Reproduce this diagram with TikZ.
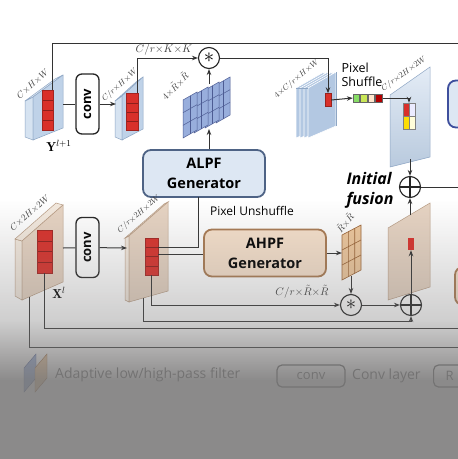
\documentclass[tikz,border=0pt]{standalone}
\usepackage{amsmath, amssymb}
\usepackage{fontspec}
\setsansfont{Open Sans}
\usepackage{tikz}
\usetikzlibrary{arrows, shapes, arrows.meta, calc, fadings}

\definecolor{wire}{HTML}{333333}
\definecolor{lpffill}{HTML}{DDE7F3}
\definecolor{lpfedge}{HTML}{4E6385}
\definecolor{hpffill}{HTML}{F7E1CC}
\definecolor{hpfedge}{HTML}{A97A52}
\definecolor{blueface}{HTML}{BFD2E8}
\definecolor{blueside}{HTML}{D6E3F1}
\definecolor{bluetop}{HTML}{E4ECF6}
\definecolor{blueline}{HTML}{8EA6C4}
\definecolor{stackface}{HTML}{B3C8E2}
\definecolor{peachface}{HTML}{E6D3C2}
\definecolor{peachside}{HTML}{F3E9DE}
\definecolor{peachline}{HTML}{B89C84}
\definecolor{featred}{HTML}{D9302A}
\definecolor{lpfplane}{HTML}{98AEDC}
\definecolor{lpfgrid}{HTML}{4D5C93}
\definecolor{hpfplane}{HTML}{EEC79C}
\definecolor{hpfgrid}{HTML}{9A6234}
\definecolor{veil}{RGB}{119,118,118}

\tikzfading[name=veilfade, top color=transparent!100, bottom color=transparent!0]
\tikzfading[name=veilfadeb, top color=transparent!59, bottom color=transparent!0]

\tikzset{
  wire/.style={draw=wire, line width=1pt},
  arr/.style={wire, -{Stealth[length=6pt, width=4.5pt]}},
  gen/.style={rounded corners=8pt, line width=1.8pt, align=center, minimum width=122pt, minimum height=47pt, font=\sffamily\bfseries\fontsize{14.5}{20}\selectfont},
  convbox/.style={draw=black!85, fill=white, line width=1.3pt, rounded corners=6pt, rotate=90, minimum width=60pt, minimum height=23pt, inner sep=0pt, font=\sffamily\bfseries\fontsize{13}{13}\selectfont},
  op/.style={draw=black!85, circle, line width=1.1pt, minimum size=21pt, inner sep=0pt},
  oplus/.style={op, path picture={\draw[line width=1.1pt, black!85] (path picture bounding box.north) -- (path picture bounding box.south) (path picture bounding box.west) -- (path picture bounding box.east);}},
  dimlbl/.style={inner sep=0pt, text=black!75, font=\fontsize{9}{9}\selectfont},
  redpatch/.style={fill=featred, draw=featred!75!black, line width=0.5pt, inner sep=0pt,
    path picture={\foreach \t in {0.25,0.5,0.75} {\draw[featred!65!black, line width=0.5pt] ($(path picture bounding box.north west)!\t!(path picture bounding box.south west)$) -- ($(path picture bounding box.north east)!\t!(path picture bounding box.south east)$);}}},
  slabedge/.style={line width=0.5pt},
  leglbl/.style={font=\sffamily\fontsize{14}{14}\selectfont, text=black!60, inner sep=0pt},
  legbox/.style={draw=black!60, line width=1.2pt, rounded corners=5pt, minimum height=22pt, font=\sffamily\fontsize{13}{13}\selectfont, text=black!60},
}

\begin{document}
\begin{tikzpicture}[x=1pt, y=-1pt]
\useasboundingbox (0,0) rectangle (458,459);
\clip (0,0) rectangle (458,459);
\fill[white] (0,0) rectangle (458,459);

% Y^{l+1} input
\filldraw[fill=blueside, draw=blueline, slabedge] (25,101) -- (33,97) -- (33,140) -- (25,137) -- cycle;
\filldraw[fill=bluetop, draw=blueline, slabedge] (25,101) -- (55,79) -- (63,75) -- (33,97) -- cycle;
\filldraw[fill=blueface, draw=blueline, slabedge] (33,97) -- (63,75) -- (63,128) -- (33,140) -- cycle;
\node[redpatch, minimum width=11pt, minimum height=40pt] (yred) at (47.5,110) {};
\node[dimlbl, rotate=42] (ylbl) at (33,84) {$C{\times}H{\times}W$};
\node[font=\fontsize{13}{13}\selectfont] (yname) at (59,146) {$\mathbf{Y}^{l+1}$};
\coordinate (ytap) at (52,90);
\coordinate (yout) at (63,104);
\coordinate (topR) at (470,43);

\node[convbox] (conv1) at (87.5,104) {conv};

% C/r x H x W
\filldraw[fill=blueside, draw=blueline, slabedge] (115,101) -- (122,96) -- (122,140) -- (115,137) -- cycle;
\filldraw[fill=bluetop, draw=blueline, slabedge] (115,101) -- (136,82) -- (143,77) -- (122,96) -- cycle;
\filldraw[fill=blueface, draw=blueline, slabedge] (122,96) -- (143,77) -- (143,129) -- (122,140) -- cycle;
\node[redpatch, minimum width=12pt, minimum height=37pt] (y2red) at (132.5,112) {};
\node[dimlbl, rotate=42, font=\fontsize{8}{8}\selectfont] (y2lbl) at (120,85) {$C/r{\times}H{\times}W$};
\coordinate (y2in) at (116,104);
\coordinate (y2tap) at (137,93);
\node[dimlbl, font=\fontsize{10.5}{10.5}\selectfont] (klbl) at (164,50) {$C/r{\times}K{\times}K$};

% ALPF kernels
\foreach \i in {3,2,1,0} {
  \pgfmathsetmacro{\px}{183+11*\i}
  \pgfmathsetmacro{\py}{138-5*\i}
  \filldraw[fill=lpfplane, draw=lpfgrid, line width=0.5pt] (\px,\py) -- ++(14,-8) -- ++(0,-38) -- ++(-14,8) -- cycle;
  \foreach \h in {12.7,25.3} \draw[lpfgrid, line width=0.5pt] (\px,\py-\h) -- ++(14,-8);
  \draw[lpfgrid, line width=0.5pt] (\px+7,\py-4) -- ++(0,-38);
}
\node[dimlbl, rotate=45] (lpfklbl) at (175,86) {$4{\times}\tilde{R}{\times}\tilde{R}$};
\coordinate (lpfkb) at (209,129);
\coordinate (lpfkt) at (209,84);
\node[op] (mulK) at (209,58) {\fontsize{20}{20}\selectfont$\ast$};

\node[gen, draw=lpfedge, fill=lpffill] (alpf) at (204,173.5) {ALPF\\Generator};

% 4 x C/r x H x W stack
\foreach \i in {0,1,2,3} {
  \pgfmathsetmacro{\sx}{296+4*\i}
  \filldraw[fill=stackface, draw=white, line width=0.6pt] (\sx,88) -- ++(28,-16) -- ++(0,54) -- ++(-28,12) -- cycle;
}
\draw[blueline, slabedge] (296,88) -- (308,88) (336,72) -- (336,126);
\node[dimlbl, rotate=40, font=\fontsize{8}{8}\selectfont] (stlbl) at (297,79) {$4{\times}C/r{\times}H{\times}W$};
\node[fill=featred, draw=featred!70!black, line width=0.4pt, minimum width=6pt, minimum height=13pt, inner sep=0pt] (stred) at (328,100) {};

% pixel shuffle
\node[font=\sffamily\fontsize{12.5}{14}\selectfont, align=left] (pslbl) at (362,75) {Pixel\\Shuffle};
\node[inner sep=0pt, minimum width=30pt, minimum height=10pt] (cubes) at (368,98) {};
\foreach \c [count=\k] in {green!55!olive!60, yellow!70!green!70, orange!20!white, red!70!black} {
  \filldraw[fill=\c, draw=black!60, line width=0.3pt] ($(cubes.south west)+(7.5*\k-7.5,-1)$) rectangle ++(6.5,-8);
}

% low-pass output
\shadedraw[top color=bluetop, bottom color=blueface!90!gray, draw=blueline, slabedge] (390,95) -- (430,67) -- (430,157) -- (390,167) -- cycle;
\node[dimlbl, rotate=36, font=\fontsize{8}{8}\selectfont] (outlbl) at (404,74) {$C/r{\times}2H{\times}2W$};
\node[draw=black!50, line width=0.4pt, minimum width=12pt, minimum height=26pt, inner sep=0pt] (outgrid) at (409,116) {};
\fill[featred] (outgrid.north west) rectangle (outgrid.center);
\fill[blue!8!white] (outgrid.north) rectangle (outgrid.east);
\fill[yellow!80!orange] (outgrid.west) rectangle (outgrid.south);
\fill[yellow!15!white] (outgrid.center) rectangle (outgrid.south east);
\draw[black!50, line width=0.4pt] (outgrid.north west) rectangle (outgrid.south east) (outgrid.north) -- (outgrid.south) (outgrid.west) -- (outgrid.east);
\coordinate (lpfout) at (410,159);

\node[oplus] (addA) at (410,187) {};
\node[font=\sffamily\bfseries\itshape\fontsize{16}{20}\selectfont, align=left] (fuselbl) at (370,190) {Initial\\fusion};
\coordinate (eA) at (470,187);

% X^l input
\filldraw[fill=peachside, draw=peachline, slabedge] (15,239) -- (22,241) -- (22,300) -- (15,296) -- cycle;
\filldraw[fill=peachside, draw=peachline, slabedge] (15,239) -- (56,203) -- (63,205) -- (22,241) -- cycle;
\filldraw[fill=peachface, draw=peachline, slabedge] (22,241) -- (63,205) -- (63,282) -- (22,300) -- cycle;
\node[redpatch, minimum width=15pt, minimum height=43pt] (xred) at (44.5,251.5) {};
\node[dimlbl, rotate=41] (xlbl) at (30,213) {$C{\times}2H{\times}2W$};
\node[font=\fontsize{13}{13}\selectfont] (xname) at (59,293) {$\mathbf{X}^{l}$};
\coordinate (xout) at (63,248);
\coordinate (xbot) at (29,297);

\node[convbox] (conv2) at (87.5,247.5) {conv};

% C/r x 2H x 2W
\filldraw[fill=peachside, draw=peachline, slabedge] (125,238) -- (129,236) -- (129,302) -- (125,300) -- cycle;
\filldraw[fill=peachside, draw=peachline, slabedge] (125,238) -- (164,204) -- (168,202) -- (129,236) -- cycle;
\filldraw[fill=peachface, draw=peachline, slabedge] (129,236) -- (168,202) -- (168,291) -- (129,302) -- cycle;
\node[redpatch, minimum width=13pt, minimum height=37pt] (x2red) at (151.5,256.5) {};
\node[dimlbl, rotate=41, font=\fontsize{8}{8}\selectfont] (x2lbl) at (139,214) {$C/r{\times}2H{\times}2W$};
\coordinate (x2in) at (127,248);
\coordinate (x2tapA) at (158,247);
\coordinate (x2tapB) at (158,254);
\coordinate (x2bot) at (143,298);
\coordinate (unsh) at (198,197);
\node[font=\sffamily\fontsize{12}{12}\selectfont] (unshlbl) at (252,211) {Pixel Unshuffle};

\node[gen, draw=hpfedge, fill=hpffill] (ahpf) at (265,253) {AHPF\\Generator};

% AHPF kernel
\filldraw[fill=hpfplane, draw=hpfgrid, line width=0.6pt] (342,235) -- (361,225) -- (361,270) -- (342,280) -- cycle;
\draw[hpfgrid, line width=0.6pt] (342,250) -- (361,240) (342,265) -- (361,255) (348.3,231.7) -- (348.3,276.7) (354.7,228.3) -- (354.7,273.3);
\node[dimlbl, rotate=50] (hpfklbl) at (345,223) {$\tilde{R}{\times}\tilde{R}$};
\coordinate (hpfkin) at (342,253);
\coordinate (hpfkb) at (351,276);
\node[op] (mulR) at (351,305) {\fontsize{20}{20}\selectfont$\ast$};
\node[dimlbl, font=\fontsize{10.5}{10.5}\selectfont] (rlbl) at (302,292) {$C/r{\times}\tilde{R}{\times}\tilde{R}$};

% high-pass output
\filldraw[fill=peachface, draw=peachline, slabedge] (388,228) -- (430,203) -- (430,287) -- (388,300) -- cycle;
\node[fill=featred, inner sep=0pt, minimum width=6pt, minimum height=12pt] (hred) at (411,244) {};
\coordinate (hpfout) at (410,215);
\node[oplus] (addB) at (411,305) {};
\coordinate (addBin) at (411,321);
\coordinate (eL3) at (470,328);
\coordinate (eL4) at (470,347);

% boxes cut by the frame
\node[draw=lpfedge!80!blue, line width=1.8pt, fill=lpffill, rounded corners=8pt, minimum width=40pt, minimum height=47pt] (cutA) at (468,104) {};
\node[draw=hpfedge, line width=1.8pt, fill=hpffill, rounded corners=8pt, minimum width=40pt, minimum height=38pt] (cutB) at (475,286) {};

% connectors
\draw[wire] (ytap) |- (topR);
\draw[wire] (yout) -- (conv1);
\draw[arr] (conv1) -- (y2in);
\draw[arr] (y2tap) |- (mulK);
\draw[arr] (alpf.north -| lpfkb) -- (lpfkb);
\draw[arr] (lpfkt) -- (mulK);
\draw[arr] (mulK) -| (stred.north);
\draw[arr] (stred.east) -- (cubes.west);
\draw[arr] (cubes.east) -| (outgrid.north);
\draw[arr] (lpfout) -- (addA.north);
\draw[arr] (hpfout) -- (addA.south);
\draw[wire] (addA) -- (eA);
\draw[wire] (xout) -- (conv2);
\draw[arr] (conv2) -- (x2in);
\draw[wire] (x2tapA) -| (unsh);
\draw[wire] (x2tapB) -- (x2tapB -| ahpf.west);
\draw[arr] (ahpf.east |- hpfkin) -- (hpfkin);
\draw[arr] (hpfkb) -- (mulR);
\draw[arr] (x2red.south) |- (mulR);
\draw[arr] (mulR) -- (addB);
\draw[arr] (x2bot) |- (addBin) -- (addB.south);
\draw[arr] (addB) -- (hred.south);
\draw[wire] (xred.south) |- (eL3);
\draw[wire] (xbot) |- (eL4);

% legend
\filldraw[fill=lpfplane, draw=lpfgrid, line width=0.4pt] (24,368) -- (36,354) -- (36,378) -- (24,392) -- cycle;
\filldraw[fill=hpfplane, draw=hpfgrid, line width=0.4pt] (35,368) -- (47,354) -- (47,378) -- (35,392) -- cycle;
\node[leglbl, anchor=west] (lgtext) at (55,375) {Adaptive low/high-pass filter};
\node[legbox, minimum width=68pt] (lgconv) at (311,376) {conv};
\node[leglbl, anchor=west] (lgconvtxt) at (352,376) {Conv layer};
\node[legbox, anchor=west, minimum width=50pt, text width=30pt, inner xsep=12pt, align=left] (lgR) at (433,376) {R};

% grey veil of the screenshot
\fill[veil, fill opacity=0.35, path fading=veilfade] (0,200) rectangle (458,320);
\fill[veil, fill opacity=0.85, path fading=veilfadeb] (0,320) rectangle (458,380);
\fill[veil, fill opacity=0.85] (0,380) rectangle (458,459);
\end{tikzpicture}
\end{document}
